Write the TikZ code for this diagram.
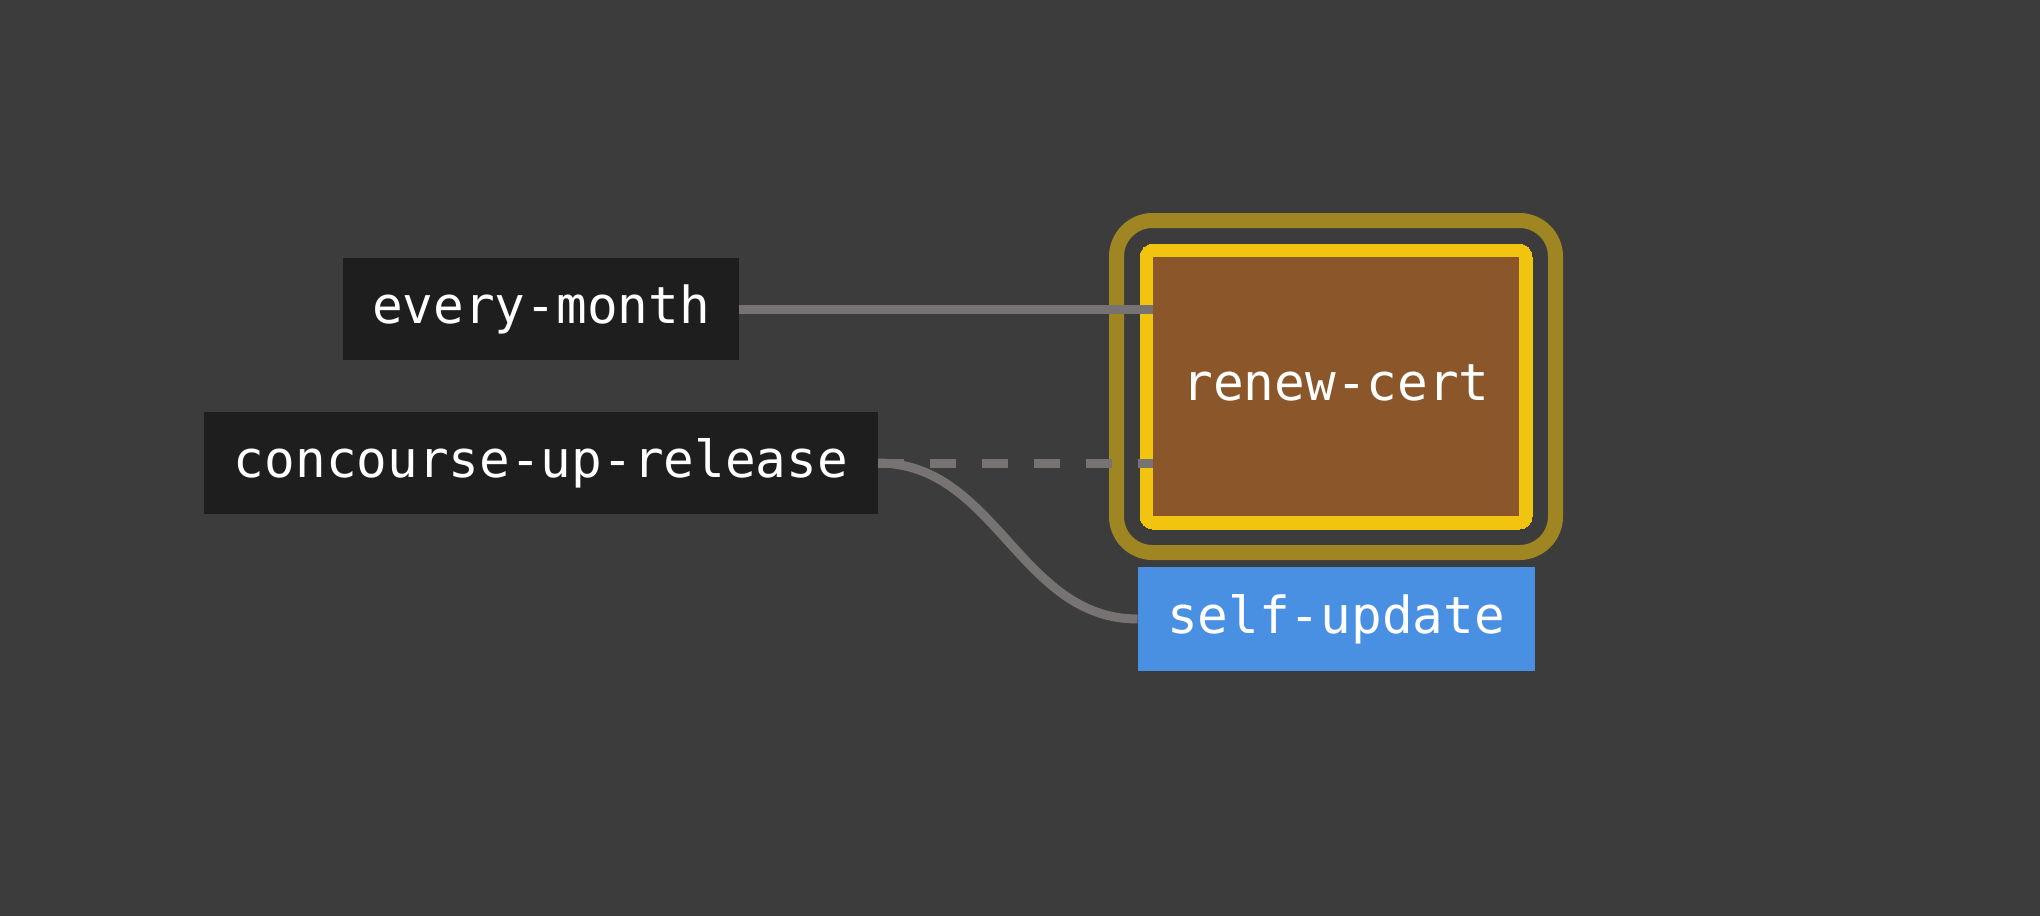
\documentclass[tikz,border=0pt]{standalone}
\usepackage{fontspec}
\usepackage{tikz}
\usetikzlibrary{positioning, calc, fit, backgrounds}
\newfontfamily\jobfont{DejaVu Sans Mono}

\definecolor{pagebg}{RGB}{60,60,60}
\definecolor{resbg}{RGB}{30,30,30}
\definecolor{jobbrown}{RGB}{139,87,42}
\definecolor{jobyellow}{RGB}{241,196,15}
\definecolor{jobolive}{RGB}{160,133,35}
\definecolor{putblue}{RGB}{74,144,226}
\definecolor{edgegray}{RGB}{120,115,115}

\begin{document}
\begin{tikzpicture}[
  x=0.5pt, y=-0.5pt,
  %% box styles
  res/.style={
    rectangle, inner sep=0pt, outer sep=0pt,
    minimum height=51pt, text height=19pt, text depth=5pt,
    font=\jobfont\fontsize{25.5}{30}\selectfont, text=white,
    fill=resbg},
  jobbox/.style={res, fill=jobbrown,
    minimum width=183pt, minimum height=129.5pt},
  putbox/.style={res, fill=putblue,
    minimum width=198.5pt, minimum height=52pt},
  ring/.style={rectangle, draw=jobyellow, fill=jobyellow,
    line width=0pt, rounded corners=6.5pt, inner sep=6.5pt},
  halo/.style={rectangle, draw=jobolive, line width=7.5pt,
    rounded corners=18pt, inner sep=18.25pt},
  wire/.style={edgegray, line width=4.5pt},
  trig/.style={wire, dash pattern=on 13pt off 13pt}
]

%% canvas
\begin{pgfonlayer}{background}
\fill[pagebg] (0,0) rectangle (2040,916);
\end{pgfonlayer}
\useasboundingbox (0,0) rectangle (2040,916);

%% ── inputs ──────────────────────────────────────────────
\node[res, minimum width=198pt] (month) at (541,309) {every-month};
\node[res, minimum width=337pt, below=26pt of month] (release)
  {concourse-up-release};

%% ── job and its output ──────────────────────────────────
\node[jobbox] (renew) at (1336,386.5) {renew-cert};
\node[putbox, below=25.5pt of renew] (selfup) {self-update};

%% running / pending frames round the job
\begin{pgfonlayer}{background}
\node[halo, fit=(renew)] (renewhalo) {};
\node[ring, fit=(renew)] (renewring) {};
\end{pgfonlayer}

%% ── edges ───────────────────────────────────────────────
\draw[wire] (month.east) -- (month.east -| renew.west);
\draw[trig] (release.east) -- (release.east -| renew.west);
\draw[wire] (release.east) to[out=0, in=180] (selfup.west);

\end{tikzpicture}
\end{document}
